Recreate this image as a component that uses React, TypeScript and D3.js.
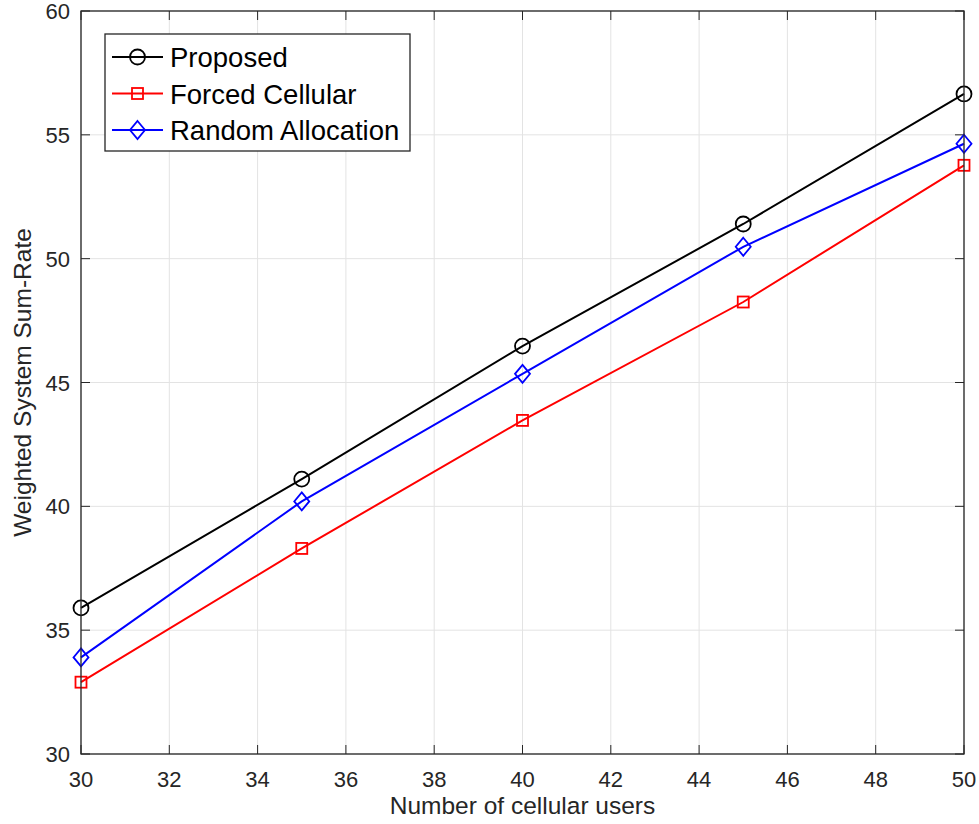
import React from "react";
import * as d3 from "d3";

const users = [30, 35, 40, 45, 50];
const proposed = [35.9, 41.1, 46.47, 51.4, 56.65];
const forcedCellular = [32.9, 38.3, 43.47, 48.25, 53.77];
const randomAllocation = [33.9, 40.2, 45.35, 50.48, 54.64];
const xTicks = [30, 32, 34, 36, 38, 40, 42, 44, 46, 48, 50];
const yTicks = [30, 35, 40, 45, 50, 55, 60];

const seriesList = [
  { name: "Proposed", values: proposed, color: "#000000", marker: "circle" },
  { name: "Forced Cellular", values: forcedCellular, color: "#ff0000", marker: "square" },
  { name: "Random Allocation", values: randomAllocation, color: "#0000ff", marker: "diamond" },
];

const W = 979;
const H = 824;
const margin = { top: 11, right: 15, bottom: 70, left: 81 };
const axisColor = "#262626";
const font = "'Liberation Sans', Arial, Helvetica, sans-serif";

const Marker = ({ type, x, y, color }) => {
  if (type === "circle")
    return <circle cx={x} cy={y} r={7.5} fill="none" stroke={color} strokeWidth={1.8} />;
  if (type === "square")
    return <rect x={x - 5.5} y={y - 5.5} width={11} height={11} fill="none" stroke={color} strokeWidth={1.8} />;
  return (
    <path
      d={`M${x},${y - 9}L${x + 7.5},${y}L${x},${y + 9}L${x - 7.5},${y}Z`}
      fill="none"
      stroke={color}
      strokeWidth={1.8}
    />
  );
};

export default function App() {
  const x = d3.scaleLinear().domain([30, 50]).range([margin.left, W - margin.right]);
  const y = d3.scaleLinear().domain([30, 60]).range([H - margin.bottom, margin.top]);
  const [x0, x1] = x.range();
  const [y0, y1] = y.range();

  const line = d3
    .line<number>()
    .x((_, i) => x(users[i]))
    .y((d) => y(d));

  const legend = { x: 105, y: 34, w: 305, h: 117, row: 36.5 };

  return (
    <svg
      width={W}
      height={H}
      style={{ position: "absolute", left: 0, top: 0, background: "#fff" }}
      fontFamily={font}
    >
      {/* grid */}
      {xTicks.map((t) => (
        <line key={"gx" + t} x1={x(t)} x2={x(t)} y1={y1} y2={y0} stroke="#e3e3e3" strokeWidth={1} />
      ))}
      {yTicks.map((t) => (
        <line key={"gy" + t} x1={x0} x2={x1} y1={y(t)} y2={y(t)} stroke="#e3e3e3" strokeWidth={1} />
      ))}

      {/* ticks, inside on all four sides */}
      {xTicks.map((t) => (
        <g key={"tx" + t} stroke={axisColor} strokeWidth={1}>
          <line x1={x(t)} x2={x(t)} y1={y0} y2={y0 - 9} />
          <line x1={x(t)} x2={x(t)} y1={y1} y2={y1 + 9} />
        </g>
      ))}
      {yTicks.map((t) => (
        <g key={"ty" + t} stroke={axisColor} strokeWidth={1}>
          <line x1={x0} x2={x0 + 9} y1={y(t)} y2={y(t)} />
          <line x1={x1} x2={x1 - 9} y1={y(t)} y2={y(t)} />
        </g>
      ))}

      {/* series */}
      {seriesList.map((s) => (
        <g key={s.name}>
          <path d={line(s.values) ?? ""} fill="none" stroke={s.color} strokeWidth={2} />
          {s.values.map((v, i) => (
            <Marker key={i} type={s.marker} x={x(users[i])} y={y(v)} color={s.color} />
          ))}
        </g>
      ))}

      {/* axes box */}
      <rect x={x0} y={y1} width={x1 - x0} height={y0 - y1} fill="none" stroke={axisColor} strokeWidth={1.3} />

      {/* tick labels */}
      {xTicks.map((t) => (
        <text key={"lx" + t} x={x(t)} y={y0 + 33} textAnchor="middle" fontSize={22} fill={axisColor}>
          {t}
        </text>
      ))}
      {yTicks.map((t) => (
        <text key={"ly" + t} x={x0 - 11} y={y(t) + 8} textAnchor="end" fontSize={22} fill={axisColor}>
          {t}
        </text>
      ))}

      {/* axis labels */}
      <text x={(x0 + x1) / 2} y={814} textAnchor="middle" fontSize={24.5} fill={axisColor}>
        Number of cellular users
      </text>
      <text
        transform={`translate(31,${(y0 + y1) / 2}) rotate(-90)`}
        textAnchor="middle"
        fontSize={24.5}
        fill={axisColor}
      >
        Weighted System Sum-Rate
      </text>

      {/* legend */}
      <rect x={legend.x} y={legend.y} width={legend.w} height={legend.h} fill="#fff" stroke={axisColor} strokeWidth={1.3} />
      {seriesList.map((s, i) => {
        const cy = legend.y + 23 + i * legend.row;
        return (
          <g key={"lg" + s.name}>
            <line x1={112} x2={163} y1={cy} y2={cy} stroke={s.color} strokeWidth={2} />
            <Marker type={s.marker} x={137.5} y={cy} color={s.color} />
            <text x={170} y={cy + 10} fontSize={27.5} fill="#000">
              {s.name}
            </text>
          </g>
        );
      })}
    </svg>
  );
}
